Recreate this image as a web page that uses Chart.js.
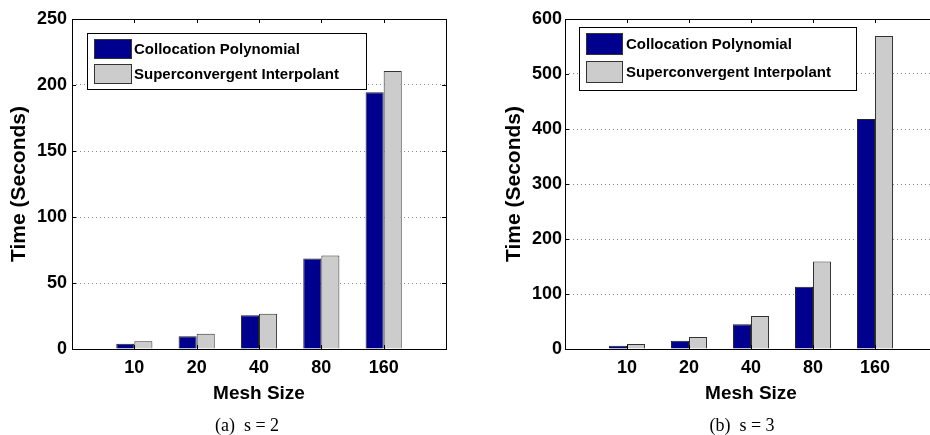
<!DOCTYPE html>
<html>
<head>
<meta charset="utf-8">
<script src="https://cdn.jsdelivr.net/npm/chart.js@4/dist/chart.umd.min.js"></script>
<style>
  html, body { margin: 0; padding: 0; background: #fff; overflow: hidden; }
  body { width: 930px; height: 435px; position: relative; }
  .panel { position: absolute; top: 0; height: 435px; }
  .caption {
    position: absolute; top: 415px; transform: translateX(-50%);
    font-family: "Liberation Serif", "Times New Roman", serif; font-size: 18px;
    white-space: pre; color: #000;
  }
</style>
</head>
<body>
<div class="panel" style="left:0;width:465px"><canvas id="chartS2"></canvas></div>
<div class="panel" style="left:465px;width:480px"><canvas id="chartS3"></canvas></div>
<div class="caption" style="left:247px">(a)  s = 2</div>
<div class="caption" style="left:742px">(b)  s = 3</div>
<script>
// mesh sizes (x categories)
const meshSizes = ['10', '20', '40', '80', '160'];
const seriesNames = ['Collocation Polynomial', 'Superconvergent Interpolant'];

// timings in seconds
const collocationS2 = [4.0, 9.6, 25.5, 68.6, 194.5];
const interpolantS2 = [5.8, 11.6, 26.7, 70.9, 210.6];
const collocationS3 = [6, 15, 45, 113, 418];
const interpolantS3 = [9, 22, 60, 159, 569];

const yTicksS2 = [0, 50, 100, 150, 200, 250];
const yTicksS3 = [0, 100, 200, 300, 400, 500, 600];

const BLUE = '#00008F';
const GRAY = '#CCCCCC';

Chart.defaults.font.family = '"Liberation Sans", Arial, sans-serif';
Chart.defaults.color = '#000';

// matlab style box + inward tick marks
const boxPlugin = {
  id: 'box',
  afterDatasetsDraw(chart) {
    const { ctx, chartArea: a, scales } = chart;
    ctx.save();
    ctx.strokeStyle = '#000';
    ctx.lineWidth = 1;
    ctx.strokeRect(Math.round(a.left) + 0.5, Math.round(a.top) + 0.5,
      Math.round(a.right - a.left), Math.round(a.bottom - a.top));
    ctx.beginPath();
    scales.y.ticks.forEach(t => {
      const y = Math.round(scales.y.getPixelForValue(t.value)) + 0.5;
      ctx.moveTo(a.left, y); ctx.lineTo(a.left + 4, y);
      ctx.moveTo(a.right, y); ctx.lineTo(a.right - 4, y);
    });
    for (let i = 1; i <= meshSizes.length; i++) {
      const x = Math.round(scales.x.getPixelForValue(i)) + 0.5;
      ctx.moveTo(x, a.top); ctx.lineTo(x, a.top + 4);
      ctx.moveTo(x, a.bottom); ctx.lineTo(x, a.bottom - 4);
    }
    ctx.stroke();
    ctx.restore();
  }
};

// legend drawn inside the axes
const boxLegend = {
  id: 'boxLegend',
  afterDatasetsDraw(chart, args, o) {
    const ctx = chart.ctx;
    ctx.save();
    ctx.fillStyle = '#fff';
    ctx.fillRect(o.x, o.y, o.w, o.h);
    ctx.strokeStyle = '#000';
    ctx.lineWidth = 1;
    ctx.strokeRect(o.x + 0.5, o.y + 0.5, o.w, o.h);
    chart.data.datasets.forEach((ds, i) => {
      const sy = o.rowY[i];
      ctx.fillStyle = ds.backgroundColor;
      ctx.fillRect(o.sx, sy, o.sw, o.sh);
      ctx.strokeStyle = '#333';
      ctx.strokeRect(o.sx + 0.5, sy + 0.5, o.sw, o.sh);
      ctx.fillStyle = '#000';
      ctx.font = 'bold 15px "Liberation Sans", Arial, sans-serif';
      ctx.textBaseline = 'middle';
      ctx.fillText(ds.label, o.tx, sy + o.sh / 2 + 1);
    });
    ctx.restore();
  }
};

function makeChart(id, colloc, interp, yTicks, lay) {
  const labels = ['', ...meshSizes, ''];
  const pad = v => [null, ...v, null];
  return new Chart(document.getElementById(id), {
    type: 'bar',
    data: {
      labels: labels,
      datasets: [
        { label: seriesNames[0], data: pad(colloc), backgroundColor: BLUE, borderColor: '#222', borderWidth: 1 },
        { label: seriesNames[1], data: pad(interp), backgroundColor: GRAY, borderColor: '#333', borderWidth: 1 }
      ]
    },
    options: {
      responsive: true,
      maintainAspectRatio: false,
      animation: false,
      layout: { padding: lay.padding },
      datasets: { bar: { categoryPercentage: 0.58, barPercentage: 1.0 } },
      plugins: {
        legend: { display: false },
        tooltip: { enabled: false },
        boxLegend: lay.legend
      },
      scales: {
        x: {
          offset: false,
          grid: { display: false, drawTicks: false },
          border: { display: false },
          ticks: { font: { size: 18, weight: 'bold' }, padding: 8, maxRotation: 0, autoSkip: false },
          title: { display: true, text: 'Mesh Size', font: { size: 19, weight: 'bold' }, padding: { top: 0, bottom: 0 } },
          afterFit: s => { s.height = 56; }
        },
        y: {
          min: yTicks[0],
          max: yTicks[yTicks.length - 1],
          afterBuildTicks: s => { s.ticks = yTicks.map(v => ({ value: v })); },
          grid: { color: '#888', lineWidth: 1, drawTicks: false },
          border: { display: false, dash: [1, 3] },
          ticks: { font: { size: 18, weight: 'bold' }, padding: lay.yTickPad },
          title: { display: true, text: 'Time (Seconds)', font: { size: 21, weight: 'bold' }, padding: { top: lay.yTitlePad, bottom: 0 } },
          afterFit: s => { s.width = lay.yWidth; }
        }
      }
    },
    plugins: [boxPlugin, boxLegend]
  });
}

makeChart('chartS2', collocationS2, interpolantS2, yTicksS2, {
  padding: { top: 19, left: 0, right: 19, bottom: 30 },
  yWidth: 72, yTickPad: 5, yTitlePad: 7,
  legend: { x: 87, y: 33, w: 279, h: 56, sx: 94, sw: 37, sh: 19, rowY: [39, 64], tx: 134 }
});

makeChart('chartS3', collocationS3, interpolantS3, yTicksS3, {
  padding: { top: 19, left: 0, right: 5, bottom: 30 },
  yWidth: 100, yTickPad: 3, yTitlePad: 37,
  legend: { x: 114, y: 27, w: 277, h: 63, sx: 121, sw: 36, sh: 21, rowY: [33, 61], tx: 161 }
});
</script>
</body>
</html>
